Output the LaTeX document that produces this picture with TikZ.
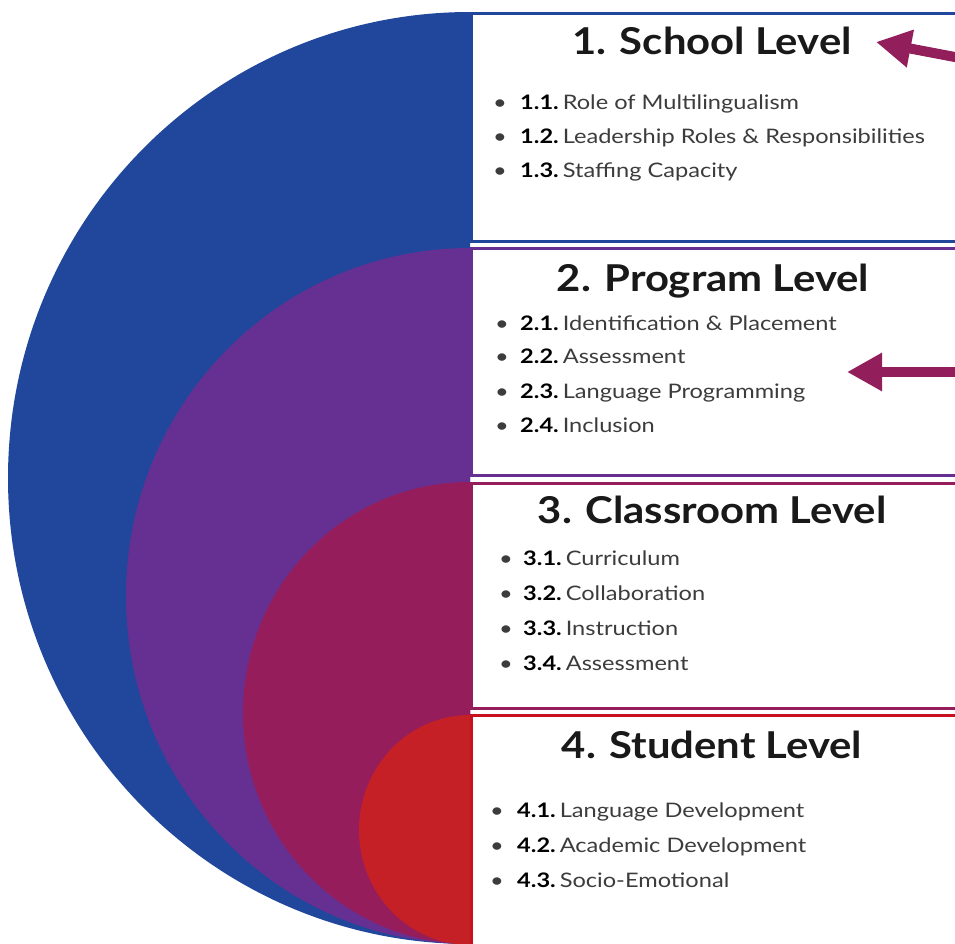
\documentclass[tikz,border=0pt]{standalone}
\usepackage{fontspec}
\setmainfont{Lato}
\newfontfamily\lvtitlefont{Lato}[FakeStretch=1.13]
\newfontfamily\lvitemfont{Lato}[FakeStretch=1.18]
\usetikzlibrary{arrows.meta}
\definecolor{lvblue}{HTML}{20479B}
\definecolor{lvpurple}{HTML}{663092}
\definecolor{lvmag}{HTML}{961D5B}
\definecolor{lvred}{HTML}{C42026}
\definecolor{lvredline}{HTML}{C8101E}
\definecolor{arrowc}{HTML}{931E5C}
\definecolor{itemgray}{HTML}{3C3C3C}
\newcommand{\itm}[6]{\node[itemtxt] (#1) at (#2,#3) {\makebox[#4pt][l]{\textbullet}\textbf{\color{black}#5}\hspace{4pt}#6};}
\begin{document}
\begin{tikzpicture}[x=1pt,y=-1pt,
  levelbox/.style={fill=white,line width=3pt},
  titletxt/.style={anchor=base,inner sep=0pt,font=\lvtitlefont\fontsize{37}{40}\selectfont\bfseries,text=black!90},
  itemtxt/.style={anchor=base west,inner sep=0pt,font=\lvitemfont\fontsize{20}{22}\selectfont,text=itemgray},
  bigarrow/.style={draw=arrowc,line width=10pt,-{Triangle[length=35pt,width=36pt]}}]
\useasboundingbox (0,0) rectangle (955,944);
\fill[white] (0,0) rectangle (955,944);
\begin{scope}
\clip (0,0) rectangle (470,944);
\fill[lvblue] (470,478) ellipse [x radius=462, y radius=466];
\fill[lvpurple] (470,596) ellipse [x radius=344, y radius=348];
\fill[lvmag] (470,713) ellipse [x radius=227, y radius=231];
\fill[lvred] (470,830) ellipse [x radius=111, y radius=115];
\end{scope}
\draw[levelbox,draw=lvblue] (471.5,13.5) rectangle (965,241.5);
\draw[levelbox,draw=lvpurple] (471.5,248.5) rectangle (965,475.5);
\draw[levelbox,draw=lvmag] (471.5,483) rectangle (965,708.5);
\draw[levelbox,draw=lvredline] (471.5,715.5) rectangle (965,950);
\node[titletxt] (t1) at (712,55) {1. School Level};
\node[titletxt] (t2) at (713,291) {2. Program Level};
\node[titletxt] (t3) at (712,523) {3. Classroom Level};
\node[titletxt] (t4) at (712,758) {4. Student Level};
\itm{i11}{493}{110}{27}{1.1.}{Role of Multilingualism}
\itm{i12}{493}{144}{27}{1.2.}{Leadership Roles \& Responsibilities}
\itm{i13}{493}{178}{27}{1.3.}{Staffing Capacity}
\itm{i21}{495}{330}{25}{2.1.}{Identification \& Placement}
\itm{i22}{495}{363}{25}{2.2.}{Assessment}
\itm{i23}{495}{398}{25}{2.3.}{Language Programming}
\itm{i24}{495}{432}{25}{2.4.}{Inclusion}
\itm{i31}{499}{565}{24}{3.1.}{Curriculum}
\itm{i32}{499}{600}{24}{3.2.}{Collaboration}
\itm{i33}{499}{635}{24}{3.3.}{Instruction}
\itm{i34}{499}{670}{24}{3.4.}{Assessment}
\itm{i41}{490}{817}{27}{4.1.}{Language Development}
\itm{i42}{490}{852}{27}{4.2.}{Academic Development}
\itm{i43}{490}{887}{27}{4.3.}{Socio-Emotional}
\coordinate (a1s) at (960,58);
\coordinate (a1e) at (876,42);
\coordinate (a2s) at (960,372);
\coordinate (a2e) at (847,372);
\draw[bigarrow] (a1s) -- (a1e);
\draw[bigarrow] (a2s) -- (a2e);
\end{tikzpicture}
\end{document}
